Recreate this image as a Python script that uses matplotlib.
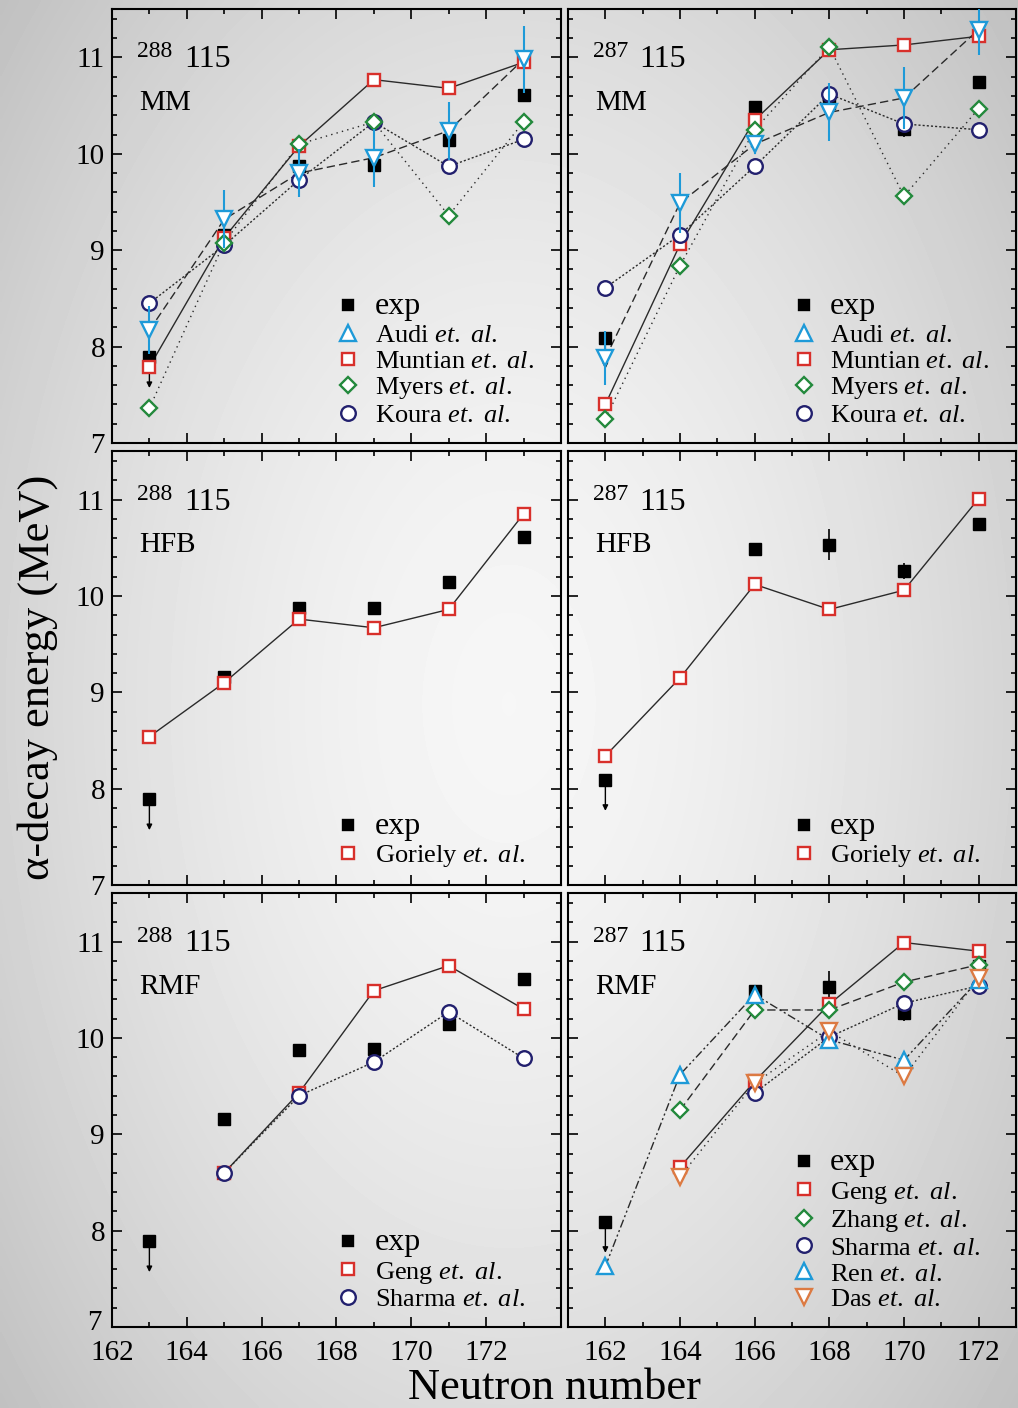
import numpy as np
import matplotlib.pyplot as plt
from matplotlib.lines import Line2D
from matplotlib.ticker import MultipleLocator
from matplotlib.transforms import ScaledTranslation

plt.rcParams['font.family'] = ['Liberation Serif', 'DejaVu Serif']
plt.rcParams['mathtext.fontset'] = 'custom'
plt.rcParams['mathtext.rm'] = 'Liberation Serif'
plt.rcParams['mathtext.it'] = 'Liberation Serif:italic'

# neutron numbers along the two decay chains
n288 = [163, 165, 167, 169, 171, 173]
n287 = [162, 164, 166, 168, 170, 172]

# experimental Q_alpha (first point of each chain is an upper limit)
exp288 = [7.89, 9.16, 9.87, 9.88, 10.14, 10.61]
exp287_n = [162, 166, 168, 170, 172]
exp287 = [8.09, 10.49, 10.53, 10.26, 10.75]
exp287_err = [0.0, 0.06, 0.16, 0.08, 0.06]

# macroscopic-microscopic models
audi288 = [8.17, 9.32, 9.80, 9.96, 10.24, 10.98]
audi288_err = [0.25, 0.30, 0.25, 0.30, 0.30, 0.35]
muntian288 = [7.79, 9.13, 10.08, 10.77, 10.68, 10.95]
myers288 = [7.36, 9.08, 10.10, 10.33, 9.36, 10.33]
koura288 = [8.45, 9.05, 9.73, 10.33, 9.87, 10.15]

audi287 = [7.88, 9.49, 10.10, 10.43, 10.58, 11.29]
audi287_err = [0.28, 0.31, 0.10, 0.30, 0.32, 0.26]
muntian287 = [7.40, 9.06, 10.35, 11.08, 11.13, 11.22]
myers287 = [7.25, 8.84, 10.25, 11.11, 9.56, 10.47]
koura287 = [8.61, 9.16, 9.87, 10.62, 10.31, 10.25]

# HFB
goriely288 = [8.54, 9.10, 9.76, 9.67, 9.86, 10.85]
goriely287 = [8.34, 9.15, 10.12, 9.86, 10.06, 11.01]

# RMF
geng288_n = [165, 167, 169, 171, 173]
geng288 = [8.60, 9.43, 10.49, 10.75, 10.30]
sharma288 = [8.60, 9.40, 9.75, 10.27, 9.79]

geng287_n = [164, 166, 168, 170, 172]
geng287 = [8.66, 9.55, 10.35, 10.99, 10.90]
zhang287 = [9.25, 10.29, 10.29, 10.58, 10.76]
sharma287_n = [166, 168, 170, 172]
sharma287 = [9.43, 10.01, 10.36, 10.54]
ren287 = [7.63, 9.62, 10.45, 9.98, 9.77, 10.60]
das287_n = [164, 166, 168, 170, 172]
das287 = [8.56, 9.53, 10.07, 9.60, 10.62]

RED = '#d8302b'
CYAN = '#1e9ad8'
GREEN = '#23893c'
NAVY = '#22206e'
ORANGE = '#dc7a42'
LINE = '#2a2a2a'

SOLID = '-'
DASH = (0, (6, 3))
SPARSE_DOT = (0, (1, 3))
DOT = (0, (1.5, 1.5))
DASHDOTDOT = (0, (6, 2, 1.5, 2, 1.5, 2))

MS = {'s': 9, 'v': 12, '^': 12, 'D': 8.5, 'o': 10.5}


def series(ax, x, y, marker, color, ls, err=None, z=5):
    ax.plot(x, y, ls=ls, color=LINE, lw=1.0, zorder=2)
    if err is not None:
        ax.errorbar(x, y, yerr=err, fmt='none', ecolor=color, elinewidth=1.5,
                    capsize=0, zorder=z)
    ax.plot(x, y, ls='none', marker=marker, ms=MS[marker], mfc='white',
            mec=color, mew=1.7, zorder=z)


def exp_points(ax, x, y, err=None):
    if err is not None:
        ax.errorbar(x, y, yerr=err, fmt='none', ecolor='k', elinewidth=1.2,
                    capsize=0, zorder=3)
    ax.plot(x, y, ls='none', marker='s', ms=9, color='k', zorder=3)
    # upper limit for the lightest member
    ax.annotate('', xy=(x[0], y[0] - 0.32), xytext=(x[0], y[0]),
                arrowprops=dict(arrowstyle='-|>', color='k', lw=1.0,
                                mutation_scale=8, shrinkA=0, shrinkB=0),
                zorder=3)


def handle(marker, color, fill='white'):
    ms = MS[marker] if marker != 's' else 8.5
    if fill == color:
        ms = 7
    return Line2D([], [], ls='none', marker=marker, ms=ms, mfc=fill,
                  mec=color, mew=1.7)


def legend(ax, entries):
    hs = [handle(*e[1:]) for e in entries]
    labels = [e[0] for e in entries]
    leg = ax.legend(hs, labels, loc='lower left', bbox_to_anchor=(0.497, 0.036),
                    frameon=False, fontsize=19, handlelength=1.0,
                    handletextpad=0.5, labelspacing=0.09, borderpad=0,
                    borderaxespad=0)
    leg.get_texts()[0].set_fontsize(23)


def tag(ax, mass, model):
    ax.text(0.056, 0.889, mass, transform=ax.transAxes, fontsize=17)
    ax.text(0.160, 0.866, '115', transform=ax.transAxes, fontsize=23)
    ax.text(0.060, 0.768, model, transform=ax.transAxes, fontsize=21)


def et_al(name):
    return name + r' $\mathit{et.\ al.}$'


# whole-figure shaded backdrop
fig = plt.figure(figsize=(10.18, 14.08), dpi=100)
bg = fig.add_axes([0, 0, 1, 1], zorder=-10)
yy, xx = np.mgrid[0:1:400j, 0:1:300j]
r = np.sqrt(((xx - 0.50) / 0.62) ** 2 + ((yy - 0.50) / 0.72) ** 2)
shade = np.clip(0.965 - 0.19 * r ** 1.6, 0, 1)
bg.imshow(shade, cmap='gray', vmin=0, vmax=1, aspect='auto',
          extent=[0, 1, 0, 1], interpolation='bilinear')
bg.axis('off')

cols = [0.110, 0.558]
widths = [0.441, 0.440]
rows = [0.6854, 0.3714, 0.0575]
height = 0.3080

axes = [[None, None] for _ in range(3)]
for i, yb in enumerate(rows):
    for j, xl in enumerate(cols):
        ax = fig.add_axes([xl, yb, widths[j], height])
        ax.set_facecolor('none')
        if j == 0:
            ax.set_xlim(162, 174)
            ax.set_xticks(range(162, 173, 2))
            ax.set_xticks(range(163, 174, 2), minor=True)
        else:
            ax.set_xlim(161, 173)
            ax.set_xticks(range(162, 173, 2))
            ax.set_xticks(range(161, 174, 2), minor=True)
        ax.set_ylim(7, 11.5)
        ax.set_yticks([7, 8, 9, 10, 11])
        ax.yaxis.set_minor_locator(MultipleLocator(0.2))
        ax.tick_params(which='both', direction='in', top=True, right=True,
                       width=1.2, labelsize=21)
        ax.tick_params(which='major', length=7)
        ax.tick_params(which='minor', length=3.5)
        ax.tick_params(axis='x', pad=9)
        ax.tick_params(axis='y', pad=5)
        ax.tick_params(labelleft=(j == 0), labelbottom=(i == 2))
        for s in ax.spines.values():
            s.set_linewidth(1.5)
        axes[i][j] = ax

# lift the lowest y label of the bottom row clear of the x labels
lab = axes[2][0].yaxis.get_major_ticks()[0].label1
lab.set_transform(lab.get_transform()
                  + ScaledTranslation(-0.03, 0.07, fig.dpi_scale_trans))

# MM, 288115
ax = axes[0][0]
exp_points(ax, n288, exp288)
series(ax, n288, muntian288, 's', RED, SOLID)
series(ax, n288, koura288, 'o', NAVY, DOT)
series(ax, n288, myers288, 'D', GREEN, SPARSE_DOT)
series(ax, n288, audi288, 'v', CYAN, DASH, err=audi288_err, z=6)
tag(ax, '288', 'MM')
legend(ax, [('exp', 's', 'k', 'k'), (et_al('Audi'), '^', CYAN),
            (et_al('Muntian'), 's', RED), (et_al('Myers'), 'D', GREEN),
            (et_al('Koura'), 'o', NAVY)])

# MM, 287115
ax = axes[0][1]
exp_points(ax, exp287_n, exp287, err=exp287_err)
series(ax, n287, muntian287, 's', RED, SOLID)
series(ax, n287, koura287, 'o', NAVY, DOT)
series(ax, n287, myers287, 'D', GREEN, SPARSE_DOT)
series(ax, n287, audi287, 'v', CYAN, DASH, err=audi287_err, z=6)
tag(ax, '287', 'MM')
legend(ax, [('exp', 's', 'k', 'k'), (et_al('Audi'), '^', CYAN),
            (et_al('Muntian'), 's', RED), (et_al('Myers'), 'D', GREEN),
            (et_al('Koura'), 'o', NAVY)])

# HFB
ax = axes[1][0]
exp_points(ax, n288, exp288)
series(ax, n288, goriely288, 's', RED, SOLID)
tag(ax, '288', 'HFB')
legend(ax, [('exp', 's', 'k', 'k'), (et_al('Goriely'), 's', RED)])

ax = axes[1][1]
exp_points(ax, exp287_n, exp287, err=exp287_err)
series(ax, n287, goriely287, 's', RED, SOLID)
tag(ax, '287', 'HFB')
legend(ax, [('exp', 's', 'k', 'k'), (et_al('Goriely'), 's', RED)])

# RMF
ax = axes[2][0]
exp_points(ax, n288, exp288)
series(ax, geng288_n, geng288, 's', RED, SOLID)
series(ax, geng288_n, sharma288, 'o', NAVY, DOT)
tag(ax, '288', 'RMF')
legend(ax, [('exp', 's', 'k', 'k'), (et_al('Geng'), 's', RED),
            (et_al('Sharma'), 'o', NAVY)])

ax = axes[2][1]
exp_points(ax, exp287_n, exp287, err=exp287_err)
series(ax, geng287_n, geng287, 's', RED, SOLID)
series(ax, geng287_n, zhang287, 'D', GREEN, DASH)
series(ax, sharma287_n, sharma287, 'o', NAVY, DOT)
series(ax, n287, ren287, '^', CYAN, DASHDOTDOT)
series(ax, das287_n, das287, 'v', ORANGE, SPARSE_DOT)
tag(ax, '287', 'RMF')
legend(ax, [('exp', 's', 'k', 'k'), (et_al('Geng'), 's', RED),
            (et_al('Zhang'), 'D', GREEN), (et_al('Sharma'), 'o', NAVY),
            (et_al('Ren'), '^', CYAN), (et_al('Das'), 'v', ORANGE)])

fig.text(38 / 1018, 1 - 677 / 1408, 'α-decay energy (MeV)',
         rotation=90, ha='center', va='center', fontsize=32)
fig.text(554 / 1018, 1 - 1388 / 1408, 'Neutron number', ha='center',
         va='center', fontsize=32)

fig.savefig('out.png', dpi=100)
